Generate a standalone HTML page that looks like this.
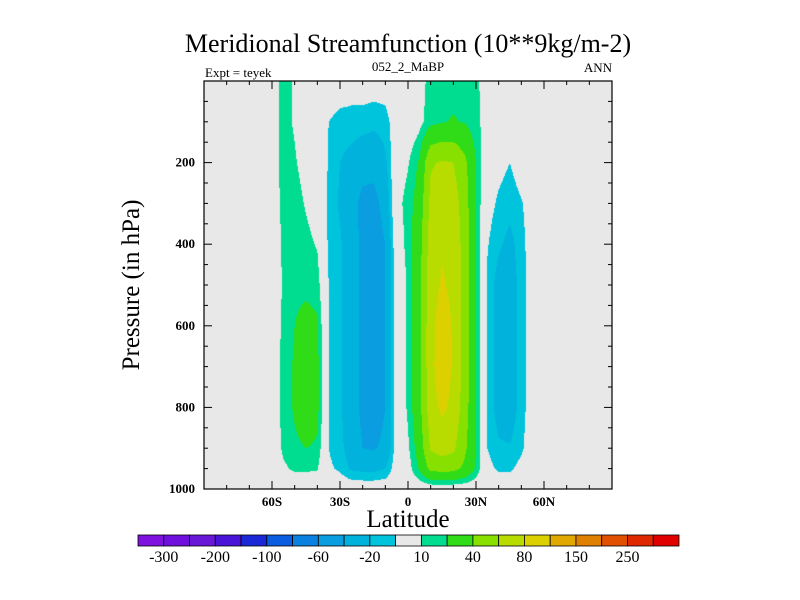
<!DOCTYPE html>
<html><head><meta charset="utf-8"><style>
html,body{margin:0;padding:0;background:#fff;}
#wrap{position:relative;width:800px;height:600px;overflow:hidden;font-family:"Liberation Serif",serif;}
svg text{font-family:"Liberation Serif",serif;}
</style></head><body>
<div id="wrap">
<canvas id="field" width="408" height="408" style="position:absolute;left:204px;top:81px;"></canvas>
<svg id="svg" width="800" height="600" style="position:absolute;left:0;top:0;"></svg>
</div>
<script>
// ---- data ----
const lats = [-90,-85,-80,-75,-70,-65,-60,-55,-50,-45,-40,-35,-30,-25,-20,-15,-10,-5,0,5,10,15,20,25,30,35,40,45,50,55,60,65,70,75,80,85,90];
const pressures = [0,100,200,300,400,500,600,700,800,900,950,1000];
const pad6 = [0,0,0,0,0,0], pad7 = [0,0,0,0,0,0,0];
const row0    = [5,13,9,0,0,0,-2,-4,-4,-4,-4,0,0,5,14,16,16,15,12,5,0,0,0,0];
const row100  = [5,13,9,3,0,-10,-14,-14,-14,-16,-14,-3,0,6,16,19,21,19,13,5,0,0,0,0];
const row200  = [4,14,11,6,2,-11,-20,-25,-32,-34,-23,3,9,22,58,62,60,45,20,-2,-6,-10,-3,0];
const row300  = [3,13,14,9,4,-13,-22,-32,-46,-46,-33,6,14,28,65,72,70,50,20,-5,-12,-16,-11,-3];
const row400  = [2,12,15,13,9,-12,-18,-30,-45,-50,-40,2,14,32,70,78,74,52,20,-9,-18,-24,-14,-3];
const row500  = [3,11,17,17,15,-10,-18,-30,-45,-52,-40,-2,12,35,72,82,76,52,20,-12,-26,-28,-15,-2];
const row600  = [3,12,20,25,22,-10,-18,-30,-45,-52,-40,-2,12,36,74,90,78,52,20,-12,-26,-28,-15,-2];
const row700  = [3,13,22,32,24,-10,-18,-30,-45,-52,-40,-2,12,36,74,92,78,52,20,-12,-26,-28,-15,-2];
const row800  = [3,13,22,32,24,-10,-18,-30,-45,-52,-40,-2,12,34,72,84,75,50,20,-12,-26,-28,-15,-2];
const row900  = [2,12,17,20,18,-10,-16,-28,-40,-42,-35,-2,8,28,62,68,64,44,20,-10,-18,-19,-12,-2];
const row950  = [0,8,12,12,11,-8,-12,-22,-24,-24,-20,-2,4,22,45,48,46,36,18,-6,-12,-12,-6,0];
const row1000 = [0,0,0,0,0,0,0,0,0,0,0,0,0,0,0,0,0,0,0,0,0,0,0,0];
const levels = [-300,-250,-200,-150,-100,-80,-60,-40,-20,-10,10,20,40,60,80,100,150,200,250,300];
const levelLabels = ["-300","-200","-100","-60","-20","10","40","80","150","250"];
const colors = ["#8012e0","#7010dd","#6a18d8","#4a14d8","#1a28d8","#0a5ce0","#0a80e0","#0a9ee0","#00b2dc","#00c4dc","#e8e8e8","#00dc90","#30dc18","#88e000","#b8dc00","#dcd000","#e0a800","#e08000","#e05000","#e02800","#e00000"];
const xTickVals = [-60,-30,0,30,60];
const xTickLabels = ["60S","30S","0","30N","60N"];
const yTickVals = [200,400,600,800,1000];

const grid = [row0,row100,row200,row300,row400,row500,row600,row700,row800,row900,row950,row1000].map(r=>pad6.concat(r,pad7));

// ---- axes ----
const PX=204, PY=81, PW=408, PH=408;
const xs = lat => PX + (lat+90)/180*PW;
const ys = p => PY + p/1000*PH;

function valueAt(lat,p){
  let i=0; while(i<lats.length-2 && lats[i+1]<lat) i++;
  let j=0; while(j<pressures.length-2 && pressures[j+1]<p) j++;
  const tx=(lat-lats[i])/(lats[i+1]-lats[i]);
  const ty=(p-pressures[j])/(pressures[j+1]-pressures[j]);
  const a=grid[j][i],b=grid[j][i+1],c=grid[j+1][i],d=grid[j+1][i+1];
  return (a*(1-tx)+b*tx)*(1-ty)+(c*(1-tx)+d*tx)*ty;
}
function colorFor(v){
  let k=0; while(k<levels.length && v>=levels[k]) k++;
  return colors[k];
}
function hex(c){return [parseInt(c.substr(1,2),16),parseInt(c.substr(3,2),16),parseInt(c.substr(5,2),16)];}

const cv=document.getElementById('field'), ctx=cv.getContext('2d');
const img=ctx.createImageData(PW,PH);
for(let y=0;y<PH;y++){
  const p=(y+0.5)/PH*1000;
  for(let x=0;x<PW;x++){
    const lat=(x+0.5)/PW*180-90;
    const rgb=hex(colorFor(valueAt(lat,p)));
    const o=(y*PW+x)*4;
    img.data[o]=rgb[0];img.data[o+1]=rgb[1];img.data[o+2]=rgb[2];img.data[o+3]=255;
  }
}
ctx.putImageData(img,0,0);

const NS='http://www.w3.org/2000/svg', svg=document.getElementById('svg');
function el(tag,attrs,txt){const e=document.createElementNS(NS,tag);for(const k in attrs)e.setAttribute(k,attrs[k]);if(txt!==undefined)e.textContent=txt;svg.appendChild(e);return e;}

let f=el('rect',{x:PX,y:PY,width:PW,height:PH,fill:'none',stroke:'#000','stroke-width':1.2});


for(let lat=-90;lat<=90;lat+=10){
  const major = lat%30===0, L = major?8:4, x=xs(lat);
  let t=el('line',{x1:x,y1:PY+PH,x2:x,y2:PY+PH-L,stroke:'#000','stroke-width':1});
  
  
  let t2=el('line',{x1:x,y1:PY,x2:x,y2:PY+L,stroke:'#000','stroke-width':1});
  
  
}
xTickVals.forEach((v,i)=>{
  const t=el('text',{x:xs(v),y:PY+PH+17,'text-anchor':'middle','font-size':13,'font-weight':'bold'},xTickLabels[i]);
  
  
});
for(let p=0;p<=1000;p+=50){
  const major=p%200===0, L=major?8:4, y=ys(p);
  let t=el('line',{x1:PX,y1:y,x2:PX+L,y2:y,stroke:'#000','stroke-width':1});
  
  
  let t2=el('line',{x1:PX+PW,y1:y,x2:PX+PW-L,y2:y,stroke:'#000','stroke-width':1});
  
  
}
yTickVals.forEach(v=>{
  const t=el('text',{x:PX-9,y:ys(v)+4,'text-anchor':'end','font-size':13,'font-weight':'bold'},String(v));
  
  
});
let tt=el('text',{x:408,y:52,'text-anchor':'middle','font-size':26},'Meridional Streamfunction (10**9kg/m-2)');


let l1=el('text',{x:205,y:77,'font-size':13},'Expt = teyek');


let l2=el('text',{x:408,y:71,'text-anchor':'middle','font-size':13},'052_2_MaBP');


let l3=el('text',{x:612,y:72,'text-anchor':'end','font-size':13},'ANN');


let xt=el('text',{x:408,y:527,'text-anchor':'middle','font-size':25},'Latitude');


let yt=el('text',{x:139,y:285,'text-anchor':'middle','font-size':25,transform:'rotate(-90 139 285)'},'Pressure (in hPa)');


const CX=138, CW=541, CY=535, CH=11, bw=CW/colors.length;
colors.forEach((c,i)=>{
  const r=el('rect',{x:CX+i*bw,y:CY,width:bw,height:CH,fill:c,stroke:'#000','stroke-width':0.8});
  
  
});
levelLabels.forEach((s,i)=>{
  const t=el('text',{x:CX+(2*i+1)*bw,y:CY+CH+16,'text-anchor':'middle','font-size':16},s);
  
  
});
</script>
</body></html>
